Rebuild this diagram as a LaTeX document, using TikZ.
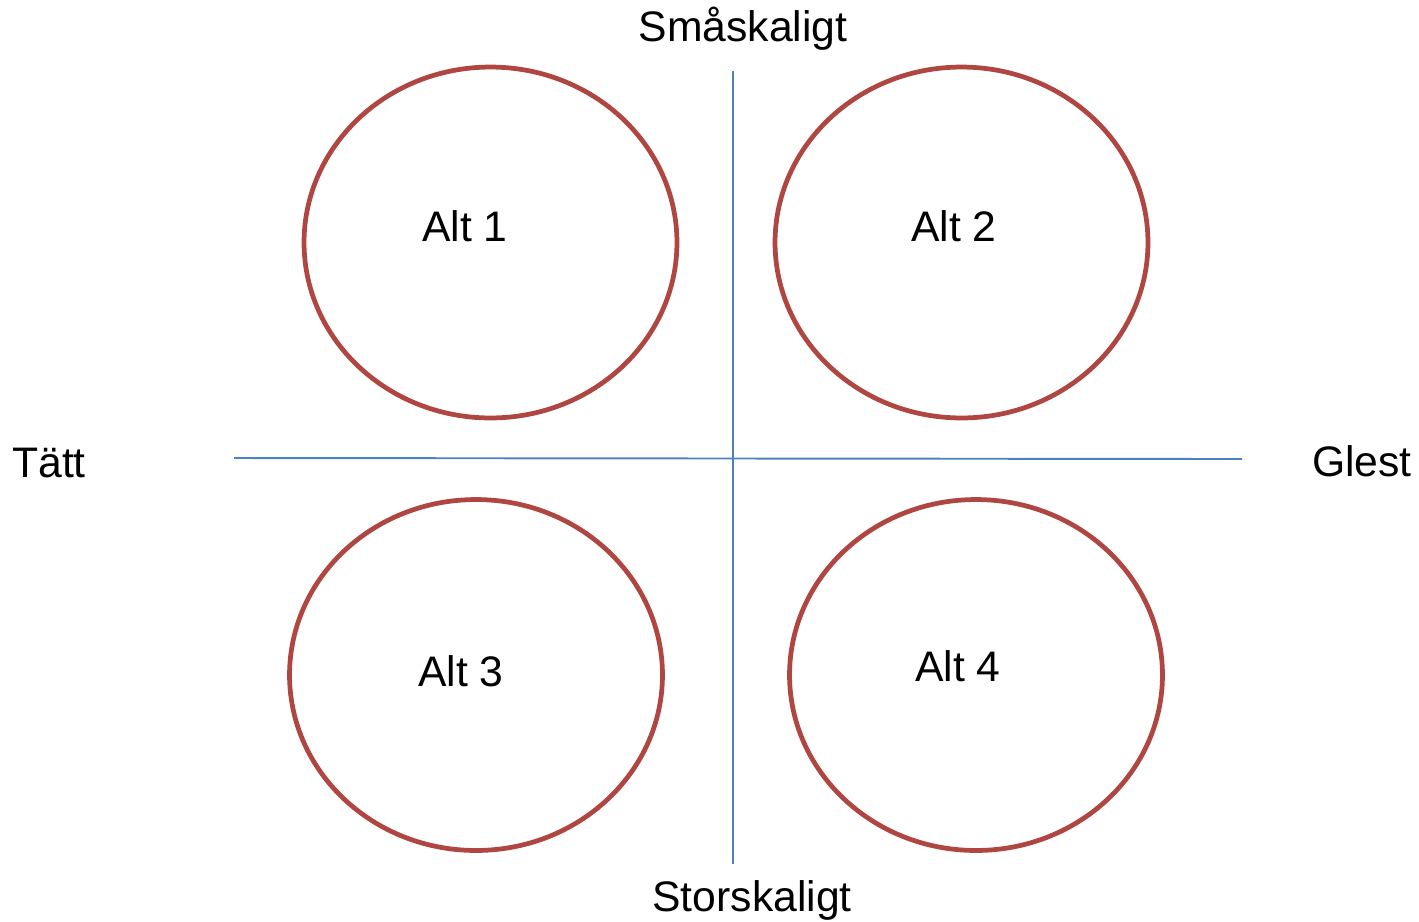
\documentclass[tikz,border=0pt]{standalone}
\usepackage{fontspec}
\setmainfont{Liberation Sans}
\usetikzlibrary{shapes.geometric}
\definecolor{ringred}{RGB}{176,70,66}
\definecolor{axisblue}{RGB}{79,129,189}
\begin{document}
\begin{tikzpicture}[x=0.02cm,y=-0.02cm,
  ring/.style={ellipse,draw=ringred,line width=2.7pt,minimum width=7.46cm,minimum height=7.02cm,inner sep=0pt},
  axis/.style={draw=axisblue,line width=1.1pt},
  lbl/.style={font=\fontsize{24.3}{28}\selectfont,inner sep=0pt}]
\useasboundingbox (0,0) rectangle (1419,921);
\node[ring] (e1) at (490.5,242.5) {};
\node[ring] (e2) at (961.5,242.5) {};
\node[ring] (e3) at (476,675) {};
\node[ring] (e4) at (976,675) {};
\node[lbl] (a1) at (465,226) {Alt 1};
\node[lbl] (a2) at (954,226) {Alt 2};
\node[lbl] (a3) at (461,671) {Alt 3};
\node[lbl] (a4) at (958,666) {Alt 4};
\coordinate (vt) at (733,71);
\coordinate (vb) at (733,864);
\coordinate (hl) at (234,458);
\coordinate (hr) at (1242,459);
\draw[axis] (vt) -- (vb);
\draw[axis] (hl) -- (hr);
\node[lbl] (top) at (743,29) {Småskaligt};
\node[lbl] (bot) at (752,900) {Storskaligt};
\node[lbl] (left) at (49,463) {Tätt};
\node[lbl] (right) at (1362,461) {Glest};
\end{tikzpicture}
\end{document}
